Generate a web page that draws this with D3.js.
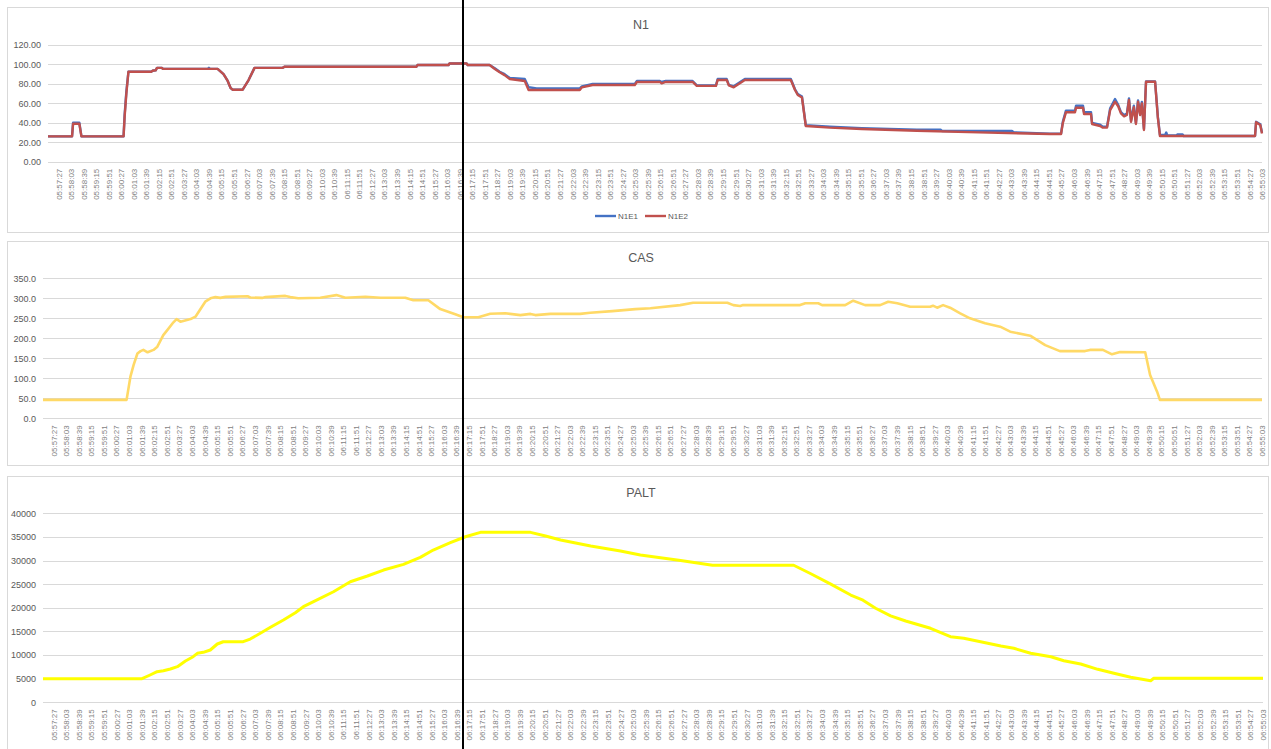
<!DOCTYPE html>
<html>
<head>
<meta charset="utf-8">
<script src="https://cdn.jsdelivr.net/npm/d3@7"></script>
<style>
  body { margin: 0; background: #fff; }
  svg { display: block; font-family: "Liberation Sans", Arial, sans-serif; }
</style>
</head>
<body>
<svg id="chart" width="1271" height="749"></svg>
<script>
// time range of the recording and the x tick labels (every 36 s)
var timeStart = '05:56:57';
var timeEnd = '06:55:03';
var firstTick = '05:57:27';
var tickStepSec = 36;
var tickCount = 97;
var markerTime = '06:16:48';

// N1 - engine 1 / engine 2 (%)
var n1e1 = [
  ['05:56:57', 26], ['05:58:06', 26], ['05:58:09', 40], ['05:58:27', 40], ['05:58:33', 26],
  ['06:00:34', 26], ['06:00:37', 48], ['06:00:42', 72], ['06:00:48', 92.5], ['06:01:54', 92.5],
  ['06:01:57', 93.5], ['06:02:06', 94], ['06:02:10', 96.5], ['06:02:24', 96.5], ['06:02:27', 95.5],
  ['06:04:36', 95.5], ['06:04:39', 96.5], ['06:04:42', 95.5],
  ['06:05:04', 95.5], ['06:05:21', 90], ['06:05:33', 83], ['06:05:41', 76], ['06:05:47', 74],
  ['06:06:16', 74], ['06:06:33', 84], ['06:06:50', 96.5], ['06:08:11', 96.5], ['06:08:16', 97.7],
  ['06:14:35', 97.7], ['06:14:38', 99.4], ['06:16:07', 99.4], ['06:16:10', 101], ['06:16:59', 101],
  ['06:17:02', 99.4], ['06:18:05', 99.4], ['06:18:20', 96], ['06:18:34', 92.5], ['06:18:48', 90],
  ['06:19:03', 86], ['06:19:46', 85], ['06:19:57', 76.5], ['06:20:20', 75.4], ['06:22:24', 75.4],
  ['06:22:30', 77.5], ['06:23:01', 80], ['06:25:02', 80], ['06:25:08', 83], ['06:26:14', 83],
  ['06:26:19', 82], ['06:26:31', 83], ['06:27:48', 83], ['06:28:00', 78.5], ['06:28:55', 78.5],
  ['06:29:00', 85], ['06:29:26', 85], ['06:29:32', 79], ['06:29:46', 77.5], ['06:30:18', 85],
  ['06:32:30', 85], ['06:32:42', 74.5], ['06:32:50', 69.5], ['06:33:02', 67], ['06:33:13', 37.5],
  ['06:34:22', 36], ['06:35:54', 34.5], ['06:38:32', 33], ['06:39:40', 33], ['06:39:45', 31.5],
  ['06:41:30', 31.5], ['06:43:05', 31.5], ['06:43:10', 30.2], ['06:44:54', 28.8], ['06:45:26', 29],
  ['06:45:31', 41], ['06:45:40', 52.5], ['06:46:06', 52.5], ['06:46:09', 57.5], ['06:46:29', 57.5],
  ['06:46:32', 51], ['06:46:52', 51], ['06:46:55', 40], ['06:47:18', 38], ['06:47:26', 36],
  ['06:47:38', 36], ['06:47:47', 55], ['06:48:01', 64.5], ['06:48:10', 58.5], ['06:48:18', 51],
  ['06:48:27', 48], ['06:48:35', 49.5], ['06:48:41', 65], ['06:48:47', 42.5], ['06:48:55', 57.5],
  ['06:49:01', 40], ['06:49:07', 63], ['06:49:13', 49], ['06:49:18', 61.5], ['06:49:24', 34],
  ['06:49:30', 82.5], ['06:49:56', 82.5], ['06:50:04', 46], ['06:50:10', 27.5], ['06:50:25', 27.5],
  ['06:50:28', 30], ['06:50:31', 27], ['06:50:58', 27], ['06:51:00', 28], ['06:51:15', 28],
  ['06:51:18', 26.4], ['06:54:43', 26.4], ['06:54:46', 41], ['06:54:58', 38.5], ['06:55:03', 30]
];
var n1e2 = [
  ['05:56:57', 26], ['05:58:06', 26], ['05:58:09', 39], ['05:58:27', 39], ['05:58:33', 26],
  ['06:00:34', 26], ['06:00:37', 46], ['06:00:42', 70], ['06:00:48', 92.5], ['06:01:54', 92.5],
  ['06:01:57', 93.5], ['06:02:06', 94], ['06:02:10', 96.5], ['06:02:24', 96.5], ['06:02:27', 95.5],
  ['06:05:04', 95.5], ['06:05:21', 90], ['06:05:33', 83], ['06:05:41', 76], ['06:05:47', 74],
  ['06:06:16', 74], ['06:06:33', 84], ['06:06:50', 96.5], ['06:08:11', 96.5], ['06:08:16', 97.7],
  ['06:14:35', 97.7], ['06:14:38', 99.4], ['06:16:07', 99.4], ['06:16:10', 101], ['06:16:59', 101],
  ['06:17:02', 99.4], ['06:18:05', 99.4], ['06:18:20', 95.3], ['06:18:34', 91.9], ['06:18:48', 89],
  ['06:19:03', 85], ['06:19:46', 83], ['06:19:57', 73.7], ['06:22:24', 73.7], ['06:22:30', 76.5],
  ['06:23:01', 78.9], ['06:25:02', 78.9], ['06:25:08', 82], ['06:26:14', 82], ['06:26:19', 80.5],
  ['06:26:31', 82], ['06:27:48', 82], ['06:28:00', 78], ['06:28:55', 78], ['06:29:00', 84],
  ['06:29:26', 84], ['06:29:32', 78.5], ['06:29:46', 76.5], ['06:30:18', 84], ['06:32:30', 84],
  ['06:32:42', 73.7], ['06:32:50', 68.6], ['06:33:02', 66], ['06:33:13', 36.7], ['06:34:22', 35],
  ['06:35:54', 33.6], ['06:38:32', 31.9], ['06:41:30', 30.2], ['06:44:54', 28.5], ['06:45:26', 28.5],
  ['06:45:31', 39.5], ['06:45:40', 50.8], ['06:46:06', 50.8], ['06:46:09', 55.5], ['06:46:29', 55.5],
  ['06:46:32', 49], ['06:46:52', 49], ['06:46:55', 38.8], ['06:47:18', 36.7], ['06:47:26', 35],
  ['06:47:38', 35], ['06:47:47', 53], ['06:48:01', 61.7], ['06:48:10', 57], ['06:48:18', 49.7],
  ['06:48:27', 46.6], ['06:48:35', 48], ['06:48:41', 63.4], ['06:48:47', 41], ['06:48:55', 56],
  ['06:49:01', 38.8], ['06:49:07', 61.7], ['06:49:13', 48], ['06:49:18', 60], ['06:49:24', 32.6],
  ['06:49:30', 82.2], ['06:49:56', 82.2], ['06:50:04', 45], ['06:50:10', 26.4], ['06:54:43', 26.4],
  ['06:54:46', 40.5], ['06:54:58', 37.7], ['06:55:03', 29]
];

// CAS (kt)
var cas = [
  ['05:56:57', 46], ['06:00:56', 46], ['06:01:07', 104], ['06:01:16', 133], ['06:01:27', 162],
  ['06:01:36', 168], ['06:01:44', 171], ['06:01:56', 165], ['06:02:13', 171], ['06:02:24', 179],
  ['06:02:41', 208], ['06:02:53', 221], ['06:03:10', 240], ['06:03:19', 248], ['06:03:30', 241.5],
  ['06:03:59', 248], ['06:04:13', 254], ['06:04:41', 291.5], ['06:04:56', 300], ['06:05:10', 303],
  ['06:05:24', 301], ['06:05:39', 303.5], ['06:06:42', 305], ['06:06:50', 302], ['06:07:24', 301],
  ['06:07:33', 303], ['06:08:30', 306], ['06:08:44', 303], ['06:09:07', 300], ['06:10:10', 301.5],
  ['06:10:56', 308], ['06:11:22', 301.5], ['06:12:19', 304], ['06:13:02', 301.5], ['06:14:13', 301.5],
  ['06:14:36', 295], ['06:15:19', 295], ['06:15:53', 273], ['06:16:36', 260], ['06:16:59', 252.5],
  ['06:17:42', 252.5], ['06:18:16', 261.5], ['06:18:59', 262.5], ['06:19:42', 258], ['06:20:11', 261],
  ['06:20:25', 258], ['06:21:08', 261], ['06:22:33', 261], ['06:23:02', 264], ['06:24:05', 268],
  ['06:25:11', 273], ['06:25:54', 275], ['06:27:19', 283], ['06:27:56', 289], ['06:29:34', 289],
  ['06:29:51', 283], ['06:30:11', 280.7], ['06:30:19', 283], ['06:33:02', 283], ['06:33:17', 287.5],
  ['06:33:54', 287.5], ['06:34:05', 283], ['06:35:11', 283], ['06:35:34', 294], ['06:36:08', 283],
  ['06:36:51', 283], ['06:37:14', 291.5], ['06:37:40', 287.5], ['06:38:17', 279], ['06:39:14', 279],
  ['06:39:22', 281.5], ['06:39:34', 276.5], ['06:39:51', 283], ['06:40:11', 276.5], ['06:40:40', 262.5],
  ['06:41:08', 250], ['06:41:51', 237.5], ['06:42:34', 229], ['06:43:03', 216.5], ['06:44:00', 206.5],
  ['06:44:43', 183], ['06:45:25', 168], ['06:46:37', 168], ['06:46:51', 171], ['06:47:28', 171],
  ['06:47:54', 160], ['06:48:17', 165.5], ['06:49:29', 165], ['06:49:43', 108], ['06:50:03', 66.5],
  ['06:50:11', 46], ['06:55:03', 46]
];

// PALT (ft)
var palt = [
  ['05:56:57', 5000], ['06:01:40', 5000], ['06:02:03', 5780], ['06:02:23', 6480], ['06:02:41', 6690],
  ['06:03:01', 7050], ['06:03:21', 7540], ['06:03:44', 8740], ['06:04:06', 9650], ['06:04:18', 10370],
  ['06:04:35', 10580], ['06:04:55', 11070], ['06:05:15', 12340], ['06:05:32', 12820], ['06:06:29', 12820],
  ['06:06:49', 13390], ['06:07:18', 14600], ['06:07:47', 15870], ['06:08:24', 17410], ['06:08:58', 18960],
  ['06:09:21', 20230], ['06:09:50', 21290], ['06:10:47', 23400], ['06:11:35', 25520], ['06:12:24', 26730],
  ['06:13:10', 27990], ['06:14:07', 29200], ['06:14:55', 30680], ['06:15:32', 32230], ['06:16:21', 33770],
  ['06:17:04', 35040], ['06:17:47', 35970], ['06:20:10', 35970], ['06:20:53', 35190], ['06:21:36', 34340],
  ['06:23:02', 33070], ['06:24:27', 32010], ['06:25:24', 31170], ['06:27:19', 30000], ['06:28:50', 29000],
  ['06:32:42', 29000], ['06:33:31', 27200], ['06:34:28', 25000], ['06:35:25', 22700], ['06:36:00', 21600],
  ['06:36:36', 19900], ['06:37:19', 18300], ['06:38:02', 17200], ['06:39:13', 15660], ['06:40:10', 13880],
  ['06:40:48', 13540], ['06:41:36', 12820], ['06:42:34', 11910], ['06:43:11', 11430], ['06:43:59', 10370],
  ['06:44:57', 9650], ['06:45:34', 8800], ['06:46:22', 8100], ['06:47:11', 6980], ['06:47:57', 6140],
  ['06:48:45', 5290], ['06:49:42', 4570], ['06:49:51', 5080], ['06:55:03', 5080]
];

var parseTime = d3.timeParse('%H:%M:%S');
var fmtTime = d3.timeFormat('%H:%M:%S');
var t0 = parseTime(timeStart), t1 = parseTime(timeEnd), tFirst = parseTime(firstTick);
var tickTimes = d3.range(tickCount).map(function(i) {
  return new Date(tFirst.getTime() + i * tickStepSec * 1000);
});

var svg = d3.select('#chart');
var textColor = '#595959';
var gridColor = '#d9d9d9';

var panels = [
  {title: 'N1', box: [7, 7, 1261, 225], left: 48, right: 1262, y0: 161.7, y1: 45,
   yMax: 120, yStep: 20, yFmt: d3.format('.2f'), titleY: 25,
   series: [{name: 'N1E1', data: n1e1, color: '#4472c4', width: 2.4},
            {name: 'N1E2', data: n1e2, color: '#c0504d', width: 2.4}], legend: true},
  {title: 'CAS', box: [7, 241, 1261, 224], left: 43, right: 1262, y0: 418.3, y1: 278.3,
   yMax: 350, yStep: 50, yFmt: d3.format('.1f'), titleY: 258,
   series: [{name: 'CAS', data: cas, color: '#ffd966', width: 2.6}]},
  {title: 'PALT', box: [7, 476, 1261, 280], left: 43, right: 1263, y0: 702.3, y1: 513.3,
   yMax: 40000, yStep: 5000, yFmt: d3.format('d'), titleY: 493,
   series: [{name: 'PALT', data: palt, color: '#ffff00', width: 3}]}
];

var n1X;

panels.forEach(function(p) {
  var g = svg.append('g');

  g.append('rect')
    .attr('x', p.box[0] + 0.5).attr('y', p.box[1] + 0.5)
    .attr('width', p.box[2]).attr('height', p.box[3])
    .attr('fill', '#fff').attr('stroke', gridColor);

  var x = d3.scaleTime().domain([t0, t1]).range([p.left, p.right]);
  var y = d3.scaleLinear().domain([0, p.yMax]).range([p.y0, p.y1]);
  if (p.title === 'N1') n1X = x;

  var yTicks = d3.range(0, p.yMax + 1, p.yStep);

  // gridlines
  g.selectAll('.grid').data(yTicks).enter().append('line')
    .attr('x1', p.left).attr('x2', p.right)
    .attr('y1', function(d) { return Math.round(y(d)) + 0.5; })
    .attr('y2', function(d) { return Math.round(y(d)) + 0.5; })
    .attr('stroke', gridColor).attr('stroke-width', 1);

  // y axis labels
  var yAxis = g.append('g')
    .attr('transform', 'translate(' + p.left + ',0)')
    .call(d3.axisLeft(y).tickValues(yTicks).tickFormat(p.yFmt).tickSize(0).tickPadding(7));
  yAxis.select('.domain').remove();
  yAxis.selectAll('text').attr('fill', textColor).style('font-size', '9px')
    .style('font-family', '"Liberation Sans", Arial, sans-serif');

  // x axis labels, rotated
  var xAxis = g.append('g')
    .attr('transform', 'translate(0,' + p.y0 + ')')
    .call(d3.axisBottom(x).tickValues(tickTimes).tickFormat(fmtTime).tickSize(0));
  xAxis.select('.domain').remove();
  xAxis.selectAll('text')
    .attr('fill', '#7f7f7f')
    .attr('transform', 'rotate(-90)')
    .attr('x', -7).attr('y', 0).attr('dy', '0.32em')
    .style('text-anchor', 'end')
    .style('font-size', '8px')
    .style('font-family', '"Liberation Sans", Arial, sans-serif');

  // title
  g.append('text')
    .attr('x', 641).attr('y', p.titleY).attr('dy', '0.35em')
    .attr('text-anchor', 'middle')
    .attr('fill', textColor).style('font-size', '12.5px')
    .text(p.title);

  var line = d3.line()
    .x(function(d) { return x(parseTime(d[0])); })
    .y(function(d) { return y(d[1]); });

  p.series.forEach(function(s) {
    g.append('path')
      .datum(s.data)
      .attr('d', line)
      .attr('fill', 'none')
      .attr('stroke', s.color)
      .attr('stroke-width', s.width)
      .attr('stroke-linejoin', 'round');
  });

  if (p.legend) {
    var lg = g.append('g').attr('transform', 'translate(595,216)');
    var offs = [0, 50];
    p.series.forEach(function(s, i) {
      lg.append('line')
        .attr('x1', offs[i]).attr('x2', offs[i] + 21)
        .attr('y1', 0).attr('y2', 0)
        .attr('stroke', s.color).attr('stroke-width', 2.4);
      lg.append('text')
        .attr('x', offs[i] + 23).attr('y', 0).attr('dy', '0.35em')
        .attr('fill', textColor).style('font-size', '8px')
        .text(s.name);
    });
  }
});

// vertical marker across all three charts
var mx = Math.round(n1X(parseTime(markerTime)));
svg.append('line')
  .attr('x1', mx).attr('x2', mx)
  .attr('y1', 0).attr('y2', 749)
  .attr('stroke', '#000').attr('stroke-width', 2);
</script>
</body>
</html>
